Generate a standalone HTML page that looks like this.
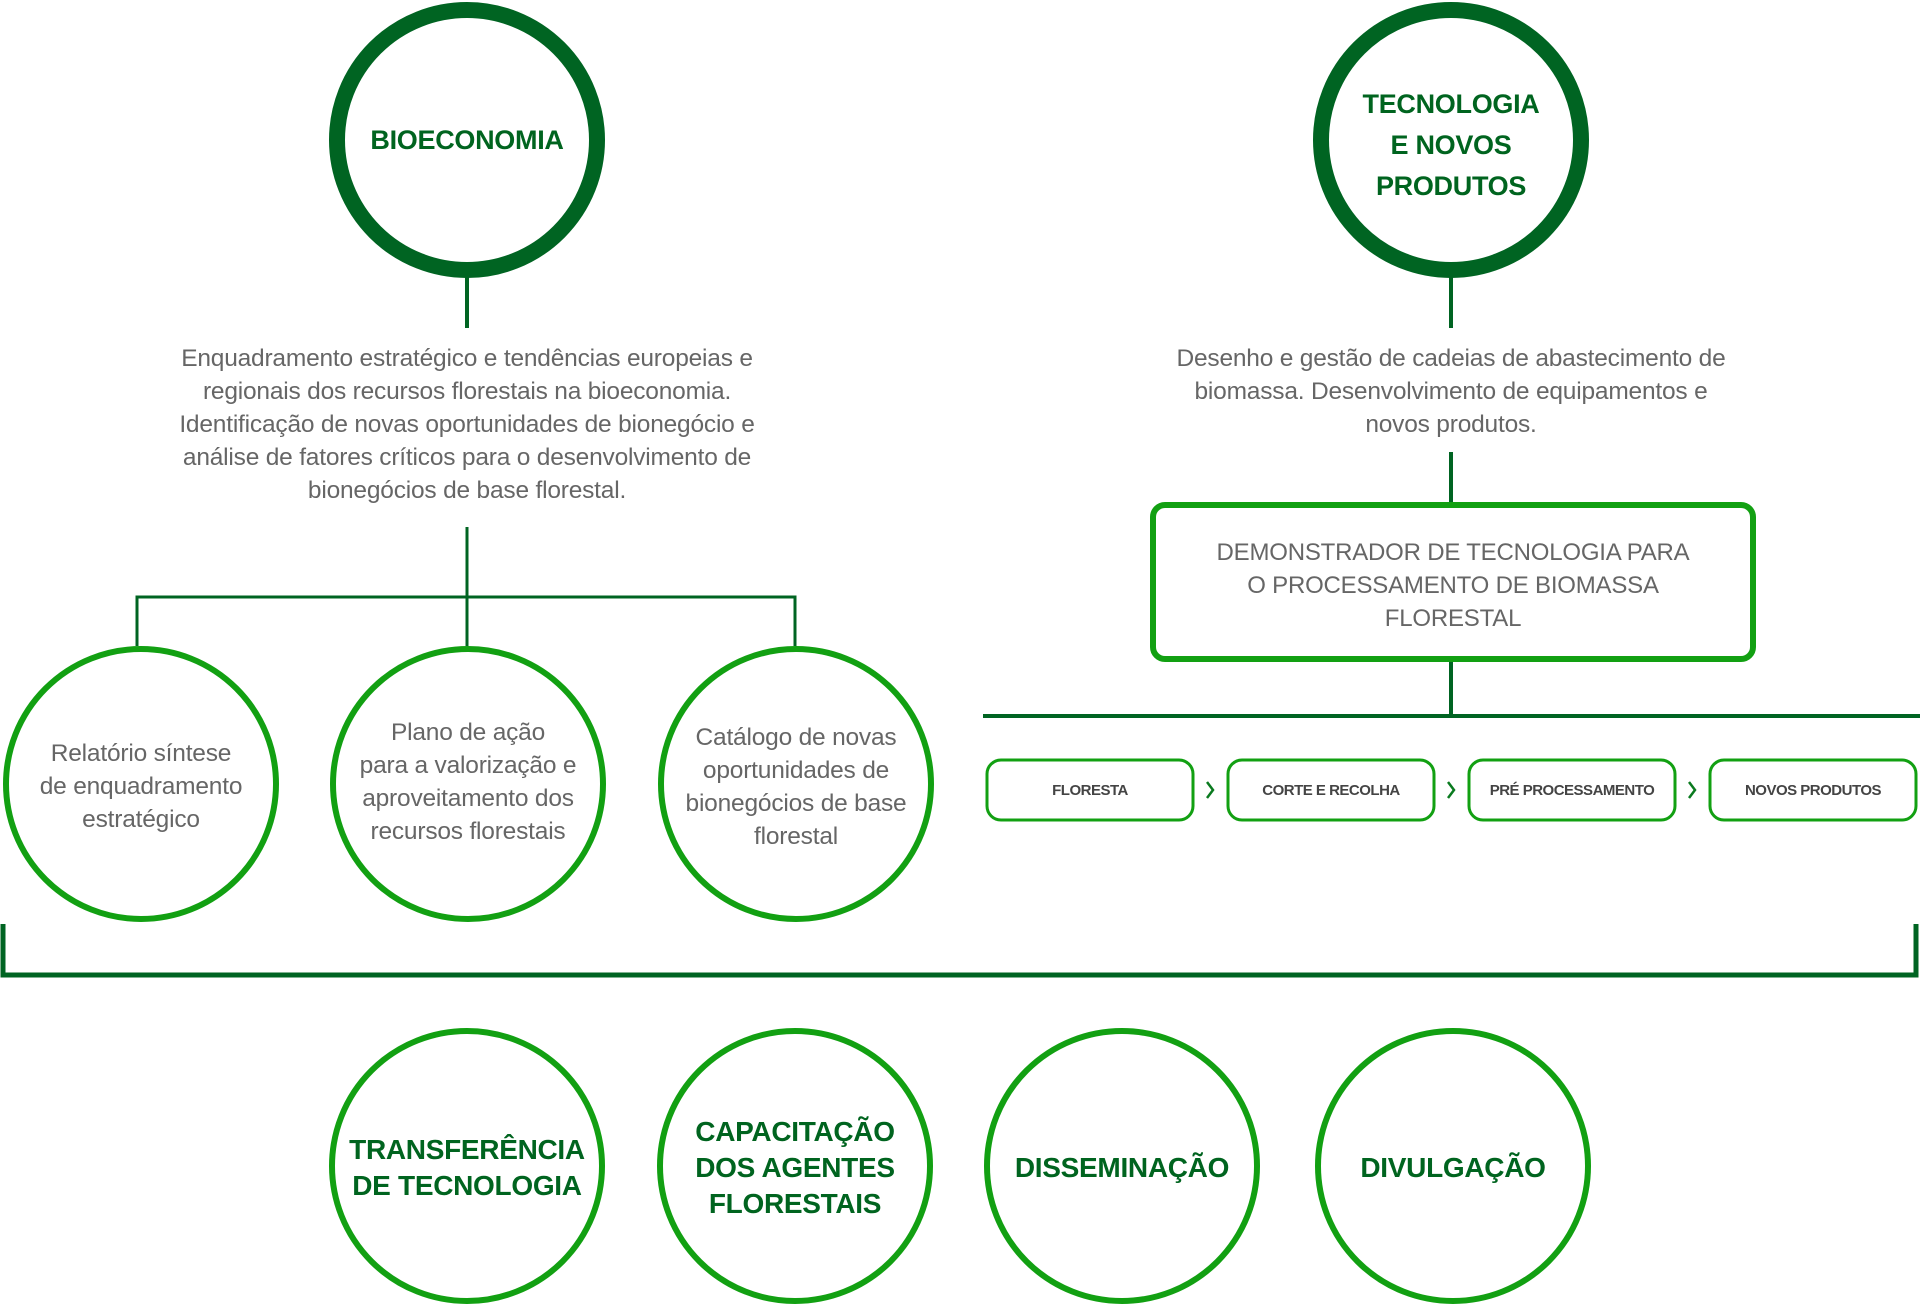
<!DOCTYPE html>
<html><head><meta charset="utf-8"><style>
body{margin:0;width:1920px;height:1306px;background:#fff;position:relative;overflow:hidden;font-family:"Liberation Sans",sans-serif}
.t{position:absolute;text-align:center;color:#666;font-size:24.5px;line-height:33px;letter-spacing:-0.2px}
.b{position:absolute;text-align:center;color:#00641f;font-weight:bold;font-size:28px;line-height:36px;letter-spacing:-0.3px}
.p{position:absolute;text-align:center;color:#444;font-weight:bold;font-size:15px;letter-spacing:-0.5px;line-height:61px}
svg{position:absolute;left:0;top:0}
</style></head><body>
<svg width="1920" height="1306">
<g fill="none" stroke="#006422">
<circle cx="467" cy="140" r="130" stroke-width="16"/>
<circle cx="1451" cy="140" r="130" stroke-width="16"/>
<line x1="467" y1="276" x2="467" y2="328" stroke-width="4"/>
<line x1="1451" y1="276" x2="1451" y2="328" stroke-width="4"/>
<line x1="467" y1="527" x2="467" y2="646" stroke-width="3"/>
<polyline points="137,646 137,597 795,597 795,646" stroke-width="3"/>
<line x1="1451" y1="452" x2="1451" y2="502" stroke-width="4"/>
<line x1="1451" y1="661" x2="1451" y2="716" stroke-width="4"/>
<line x1="983" y1="716" x2="1920" y2="716" stroke-width="4"/>
<polyline points="3,924 3,975 1916,975 1916,924" stroke-width="5"/>
</g>
<g fill="none" stroke="#12a012" stroke-width="6">
<circle cx="141" cy="784" r="135"/>
<circle cx="468" cy="784" r="135"/>
<circle cx="796" cy="784" r="135"/>
<circle cx="467" cy="1166" r="135"/>
<circle cx="795" cy="1166" r="135"/>
<circle cx="1122" cy="1166" r="135"/>
<circle cx="1453" cy="1166" r="135"/>
<rect x="1153" y="505" width="600" height="154" rx="12"/>
</g>
<g fill="none" stroke="#12a012" stroke-width="3">
<rect x="987" y="760" width="206" height="60" rx="14"/>
<rect x="1228" y="760" width="206" height="60" rx="14"/>
<rect x="1469" y="760" width="206" height="60" rx="14"/>
<rect x="1710" y="760" width="206" height="60" rx="14"/>
</g>
<g fill="none" stroke="#0a7a1f" stroke-width="2.5">
<polyline points="1207,782 1213,790 1207,798"/>
<polyline points="1448,782 1454,790 1448,798"/>
<polyline points="1689,782 1695,790 1689,798"/>
</g>
</svg>
<div class="b" style="left:337px;top:122px;width:260px;font-size:27px">BIOECONOMIA</div>
<div class="b" style="left:1321px;top:84px;width:260px;line-height:41px;font-size:27px">TECNOLOGIA<br>E NOVOS<br>PRODUTOS</div>
<div class="t" style="left:117px;top:342px;width:700px">Enquadramento estratégico e tendências europeias e<br>regionais dos recursos florestais na bioeconomia.<br>Identificação de novas oportunidades de bionegócio e<br>análise de fatores críticos para o desenvolvimento de<br>bionegócios de base florestal.</div>
<div class="t" style="left:1101px;top:342px;width:700px">Desenho e gestão de cadeias de abastecimento de<br>biomassa. Desenvolvimento de equipamentos e<br>novos produtos.</div>
<div class="t" style="left:1153px;top:536px;width:600px;font-size:24px">DEMONSTRADOR DE TECNOLOGIA PARA<br>O PROCESSAMENTO DE BIOMASSA<br>FLORESTAL</div>
<div class="t" style="left:1px;top:737px;width:280px">Relatório síntese<br>de enquadramento<br>estratégico</div>
<div class="t" style="left:328px;top:716px;width:280px">Plano de ação<br>para a valorização e<br>aproveitamento dos<br>recursos florestais</div>
<div class="t" style="left:656px;top:721px;width:280px">Catálogo de novas<br>oportunidades de<br>bionegócios de base<br>florestal</div>
<div class="p" style="left:987px;top:760px;width:206px">FLORESTA</div>
<div class="p" style="left:1228px;top:760px;width:206px">CORTE E RECOLHA</div>
<div class="p" style="left:1469px;top:760px;width:206px">PRÉ PROCESSAMENTO</div>
<div class="p" style="left:1710px;top:760px;width:206px">NOVOS PRODUTOS</div>
<div class="b" style="left:337px;top:1132px;width:260px">TRANSFERÊNCIA<br>DE TECNOLOGIA</div>
<div class="b" style="left:665px;top:1114px;width:260px">CAPACITAÇÃO<br>DOS AGENTES<br>FLORESTAIS</div>
<div class="b" style="left:992px;top:1150px;width:260px">DISSEMINAÇÃO</div>
<div class="b" style="left:1323px;top:1150px;width:260px">DIVULGAÇÃO</div>
</body></html>
